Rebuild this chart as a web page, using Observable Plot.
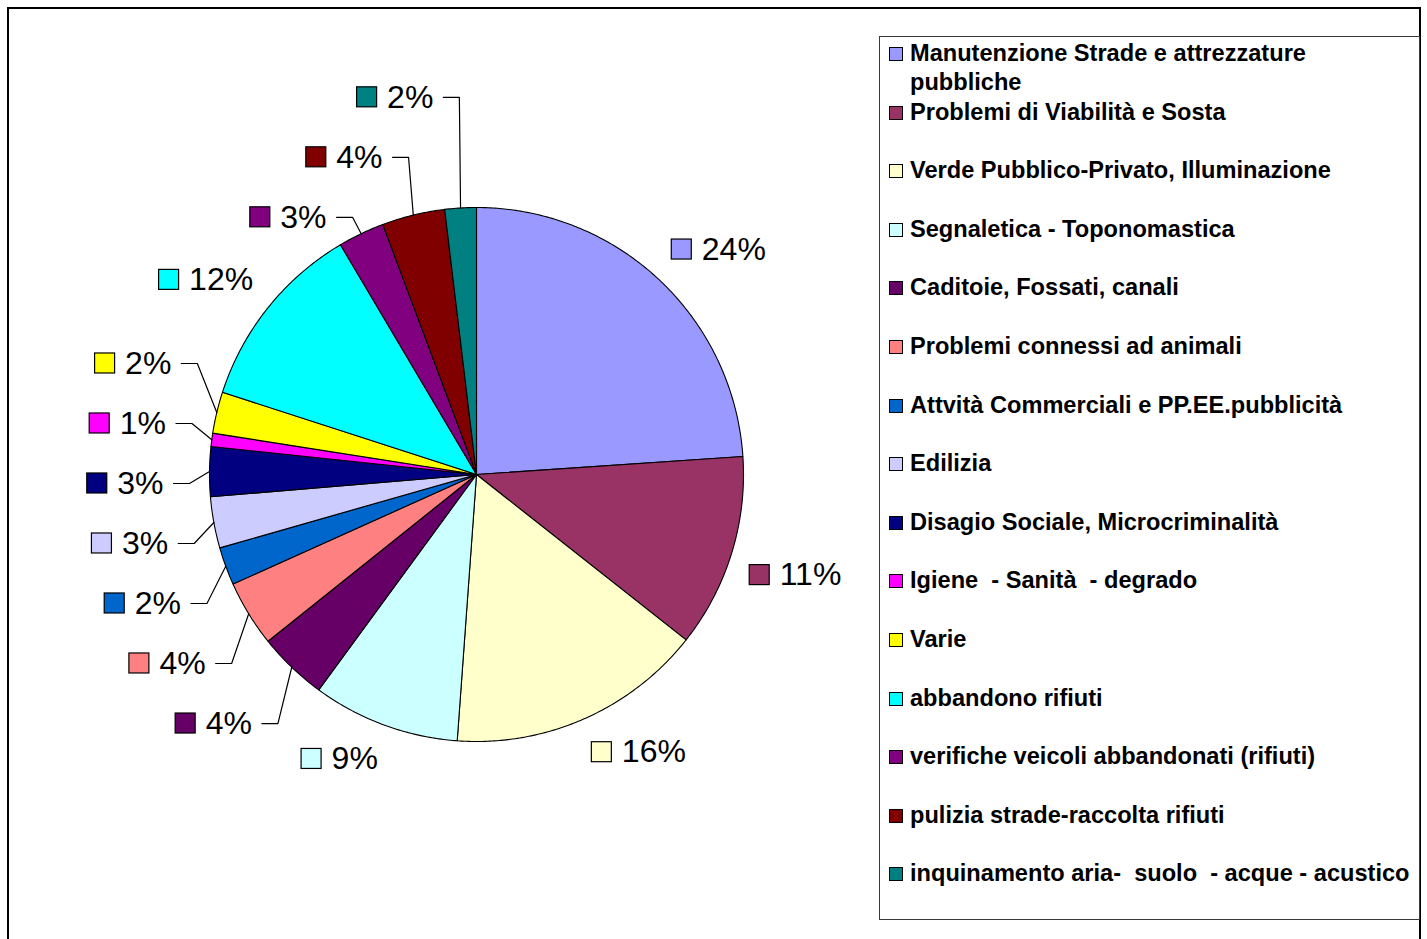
<!DOCTYPE html>
<html>
<head>
<meta charset="utf-8">
<script src="https://cdn.jsdelivr.net/npm/d3@7"></script>
<script src="https://cdn.jsdelivr.net/npm/@observablehq/plot@0.6"></script>
<style>
html, body { margin: 0; padding: 0; background: #fff; overflow: hidden; }
#page { position: relative; width: 1427px; height: 939px; overflow: hidden; font-family: "Liberation Sans", Arial, sans-serif; background: #fff; }
#frame { position: absolute; left: 7px; top: 7px; width: 1414px; height: 1000px; border: 2px solid #000; box-sizing: border-box; }
#chart { position: absolute; left: 0; top: 0; }
#legend { position: absolute; left: 879px; top: 36px; width: 541px; height: 884px; border: 1.5px solid #3a3a3a; box-sizing: border-box; background: #fff; }
.item { position: absolute; left: 9px; width: 530px; display: flex; align-items: flex-start; font-weight: bold; font-size: 23.6px; line-height: 29px; color: #000; }
.sw { flex: none; width: 14px; height: 14px; border: 1px solid #000; box-sizing: border-box; margin-top: 8px; margin-right: 7px; }
.tx { white-space: pre-wrap; width: 508px; }
</style>
</head>
<body>
<div id="page">
  <div id="frame"></div>
  <div id="chart"></div>
  <div id="legend"></div>
</div>
<script>
// ---- data ----
const categories = [
  "Manutenzione Strade e attrezzature pubbliche",
  "Problemi di Viabilità e Sosta",
  "Verde Pubblico-Privato, Illuminazione",
  "Segnaletica - Toponomastica",
  "Caditoie, Fossati, canali",
  "Problemi connessi ad animali",
  "Attvità Commerciali e PP.EE.pubblicità",
  "Edilizia",
  "Disagio Sociale, Microcriminalità",
  "Igiene  - Sanità  - degrado",
  "Varie",
  "abbandono rifiuti",
  "verifiche veicoli abbandonati (rifiuti)",
  "pulizia strade-raccolta rifiuti",
  "inquinamento aria-  suolo  - acque - acustico"
];
const values = [23.9, 11.7, 15.5, 8.9, 4.2, 4.0, 2.3, 3.1, 3.0, 0.8, 2.5, 11.5, 2.8, 3.8, 1.9];
const percentLabels = ["24%", "11%", "16%", "9%", "4%", "4%", "2%", "3%", "3%", "1%", "2%", "12%", "3%", "4%", "2%"];
const palette = ["#9999FF", "#993366", "#FFFFCC", "#CCFFFF", "#660066", "#FF8080", "#0066CC", "#CCCCFF",
                 "#000080", "#FF00FF", "#FFFF00", "#00FFFF", "#800080", "#800000", "#008080"];

// ---- layout constants ----
const W = 870, H = 939, CX = 476, CY = 474, R = 267;
const SQ = 20, GAP = 10, HALF_H = 16, MIN_GAP = 60;
const FONT = "'Liberation Sans', Arial, sans-serif";

const ctx = document.createElement("canvas").getContext("2d");
ctx.font = "32px " + FONT;
const measure = s => ctx.measureText(s).width;

// ---- slices ----
const total = d3.sum(values);
let acc = 0;
const slices = values.map((v, i) => {
  const a0 = acc / total * 2 * Math.PI; acc += v;
  const a1 = acc / total * 2 * Math.PI;
  return {i, name: categories[i], value: v, label: percentLabels[i], a0, a1, mid: (a0 + a1) / 2};
});

const pieRows = [];
for (const s of slices) {
  pieRows.push({name: s.name, x: 0, y: 0});
  const n = Math.max(2, Math.ceil((s.a1 - s.a0) / (Math.PI / 360)));
  for (let k = 0; k <= n; k++) {
    const a = s.a0 + (s.a1 - s.a0) * k / n;
    pieRows.push({name: s.name, x: R * Math.sin(a), y: -R * Math.cos(a)});
  }
}

// ---- labels (Excel-like placement) ----
const labels = slices.map(s => {
  const tw = measure(s.label);
  const w = (SQ + GAP + tw) / 2;
  const sn = Math.sin(s.mid), cs = Math.cos(s.mid);
  const left = sn < 0;
  const small = s.value < 5;
  let x, y, elbow = null;
  if (!small) {
    const r1 = R + 19;
    x = r1 * sn + Math.sign(sn) * w;
    y = -r1 * cs - Math.sign(cs) * HALF_H;
  } else {
    const ext = w * Math.abs(sn) + HALF_H * Math.abs(cs);
    const d = R + 40 + ext; y = -d * cs;
    elbow = (R + 20) * sn;
    x = left ? elbow - 26 - w : elbow + 26 + w;
  }
  return {name: s.name, label: s.label, mid: s.mid, sn, cs, w, tw, left, small, x, y, elbow};
});

function relax(list) {
  for (let it = 0; it < 2000; it++) {
    for (let k = 0; k < list.length - 1; k++) {
      const a = list[k], b = list[k + 1];
      const ox = a.x - a.w < b.x + b.w && b.x - b.w < a.x + a.w;
      const g = b.y - a.y;
      if (ox && g < MIN_GAP) { const d = (MIN_GAP - g) / 2; a.y -= d; b.y += d; }
    }
  }
}
relax(labels.filter(l => l.left).sort((a, b) => b.mid - a.mid));
relax(labels.filter(l => !l.left).sort((a, b) => a.mid - b.mid));

for (const l of labels) {
  l.x1 = l.x - l.w; l.x2 = l.x1 + SQ;
  l.y1 = l.y - SQ / 2; l.y2 = l.y + SQ / 2;
  l.tx = l.x1 + SQ + GAP;
}

const leaderRows = [];
for (const l of labels.filter(l => l.small)) {
  const start = l.left ? l.elbow - 16 : l.elbow + 16;
  leaderRows.push({name: l.name, x: start, y: l.y});
  leaderRows.push({name: l.name, x: l.elbow, y: l.y});
  leaderRows.push({name: l.name, x: R * l.sn, y: -R * l.cs});
}

// ---- plot ----
const chart = Plot.plot({
  width: W, height: H, margin: 0,
  x: {domain: [-CX, W - CX], range: [0, W], axis: null},
  y: {domain: [-CY, H - CY], range: [0, H], axis: null},
  color: {domain: categories, range: palette},
  style: {fontFamily: FONT, background: "transparent", overflow: "visible"},
  marks: [
    Plot.line(pieRows, {x: "x", y: "y", z: "name", fill: "name", stroke: "#000", strokeWidth: 1.1, curve: "linear-closed", strokeLinejoin: "round"}),
    Plot.line(leaderRows, {x: "x", y: "y", z: "name", stroke: "#000", strokeWidth: 1.2}),
    Plot.rect(labels, {x1: "x1", x2: "x2", y1: "y1", y2: "y2", fill: "name", stroke: "#000", strokeWidth: 1.2}),
    Plot.text(labels, {x: "tx", y: "y", text: "label", textAnchor: "start", fontSize: 32, fill: "#000", fontFamily: FONT})
  ]
});
document.getElementById("chart").appendChild(chart);

// ---- legend ----
const legend = document.getElementById("legend");
categories.forEach((c, i) => {
  const item = document.createElement("div");
  item.className = "item";
  item.style.top = (53 + 58.6 * i - 14.5 - 36.5) + "px";
  const sw = document.createElement("div");
  sw.className = "sw";
  sw.style.background = palette[i];
  const tx = document.createElement("div");
  tx.className = "tx";
  tx.textContent = c;
  item.appendChild(sw); item.appendChild(tx);
  legend.appendChild(item);
});
</script>
</body>
</html>
